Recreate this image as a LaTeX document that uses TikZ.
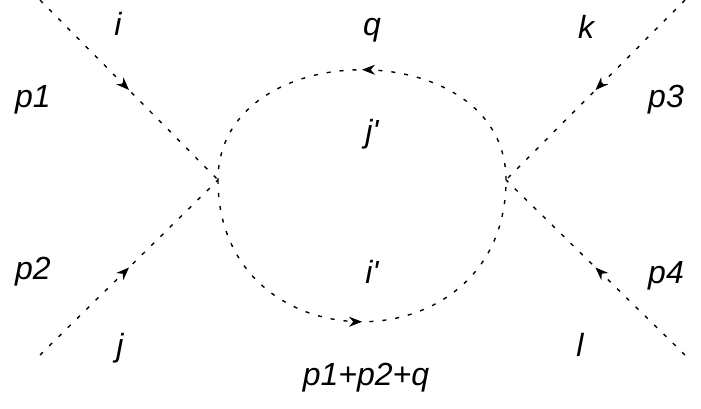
\documentclass[tikz,border=0pt]{standalone}
\usepackage{fontspec}
\setmainfont{Liberation Sans}
\usetikzlibrary{decorations.markings,arrows.meta}
\tikzset{
  prop/.style={line width=1.4pt,dash pattern=on 4pt off 9pt},
  fwd/.style={postaction={decorate},decoration={markings,
    mark=at position #1 with {\arrow[solid,line width=0.8pt]{Stealth[length=13pt,width=10pt]}}}},
  lab/.style={font=\fontsize{32}{34}\selectfont\itshape}
}
\begin{document}
\begin{tikzpicture}[x=1pt,y=-1pt,line join=round]
\useasboundingbox (0,0) rectangle (701,409);
% external legs
\coordinate (a) at (40,0);
\coordinate (b) at (40,355);
\coordinate (c) at (685,0);
\coordinate (d) at (685,355);
\coordinate (v1) at (218,180);
\coordinate (v2) at (506,180);
\draw[prop,fwd=0.5] (a) -- (v1);
\draw[prop,fwd=0.5] (b) -- (v1);
\draw[prop,fwd=0.5] (c) -- (v2);
\draw[prop,fwd=0.5] (d) -- (v2);
% loop
\draw[prop,fwd=0.5] (v2) .. controls (506,33) and (218,33) .. (v1);
\draw[prop,fwd=0.5] (v1) .. controls (218,369) and (506,369) .. (v2);
% labels
\node[lab] (li) at (118,24) {i};
\node[lab] (lq) at (372,30) {q};
\node[lab] (lk) at (586,27) {k};
\node[lab] (lp1) at (33,100) {p1};
\node[lab] (lp3) at (666,100) {p3};
\node[lab] (ljp) at (372,134) {j\textquotesingle};
\node[lab] (lp2) at (33,272) {p2};
\node[lab] (lip) at (372,272) {i\textquotesingle};
\node[lab] (lp4) at (666,276) {p4};
\node[lab] (lj) at (120,348) {j};
\node[lab] (ll) at (580,345) {l};
\node[lab] (lsum) at (366,378) {p1+p2+q};
\end{tikzpicture}
\end{document}
